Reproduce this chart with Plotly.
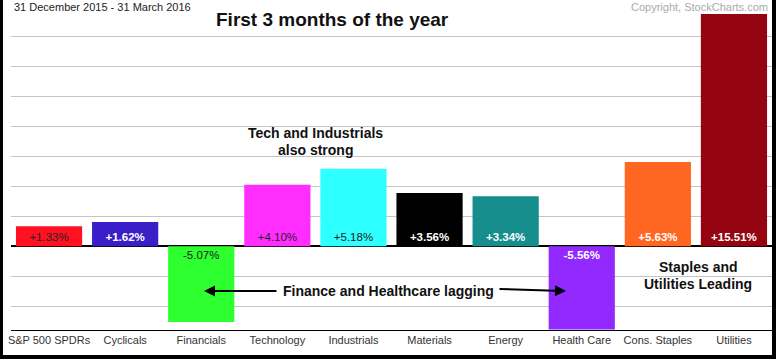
import plotly.graph_objects as go

categories = ["S&P 500 SPDRs", "Cyclicals", "Financials", "Technology", "Industrials",
              "Materials", "Energy", "Health Care", "Cons. Staples", "Utilities"]
values = [1.33, 1.62, -5.07, 4.10, 5.18, 3.56, 3.34, -5.56, 5.63, 15.51]
bar_colors = ["#FF1122", "#3A1EC8", "#2EFF2E", "#FF2EFF", "#2EFFFF",
              "#000000", "#168E8E", "#922AFF", "#FF6622", "#950511"]
label_colors = ["#222222", "#FFFFFF", "#222222", "#222222", "#222222",
                "#FFFFFF", "#FFFFFF", "#FFFFFF", "#FFFFFF", "#FFFFFF"]

W, H = 776, 362
L, R, T, B = 11, 772, 12, 330  # plot area in pixels


def px(x):
    return (x - L) / (R - L)


def py(y):
    return (B - y) / (B - T)


texts = []
for v, c in zip(values, label_colors):
    s = f"{v:+.2f}%"
    texts.append(f"<b>{s}</b>" if c == "#FFFFFF" else s)

fig = go.Figure(go.Bar(
    x=categories, y=values, marker=dict(color=bar_colors, line=dict(width=0)),
    text=texts, textposition="inside", insidetextanchor="start",
    textfont=dict(color=label_colors, size=11.5, family="Liberation Sans, Arial"),
    textangle=0, constraintext="none", hoverinfo="skip",
))

fig.update_layout(
    width=W, height=H, margin=dict(l=L, r=W - R, t=T, b=H - B),
    paper_bgcolor="white", plot_bgcolor="white", bargap=0.13, showlegend=False,
    font=dict(family="Liberation Sans, Arial", color="#333333"),
    xaxis=dict(showline=True, linecolor="black", linewidth=1, ticks="",
               tickfont=dict(size=11, color="#333333"), showgrid=False, fixedrange=True,
               ticklabelstandoff=0),
    yaxis=dict(range=[-5.6, 15.65], dtick=2, tick0=0, showgrid=True, gridcolor="#C4C4C4",
               gridwidth=1, zeroline=True, zerolinecolor="black", zerolinewidth=1.5,
               showticklabels=False, ticks="", fixedrange=True),
)

ann = []


def text(x, y, s, size, bold=True, color="#111111", xanchor="center"):
    ann.append(dict(x=px(x), y=py(y), xref="paper", yref="paper", showarrow=False,
                    text=f"<b>{s}</b>" if bold else s, xanchor=xanchor, yanchor="middle",
                    font=dict(size=size, color=color, family="Liberation Sans, Arial")))


text(12, 7, "31 December 2015 - 31 March 2016", 11, bold=False, color="#222222", xanchor="left")
text(770, 7, "Copyright, StockCharts.com", 11, bold=False, color="#AAAAAA", xanchor="right")
text(332, 19, "First 3 months of the year", 19)
text(315, 133, "Tech and Industrials", 14)
text(315, 150, "also strong", 14)
text(388, 291, "Finance and Healthcare lagging", 14)
text(698, 267, "Staples and", 14)
text(698, 284, "Utilities Leading", 14)

# arrows
ann.append(dict(x=px(204), y=py(291), xref="paper", yref="paper", ax=74, ay=0, text="",
                showarrow=True, arrowhead=2, arrowsize=1.1, arrowwidth=2, arrowcolor="black"))
ann.append(dict(x=px(566), y=py(291), xref="paper", yref="paper", ax=-68, ay=-2, text="",
                showarrow=True, arrowhead=2, arrowsize=1.1, arrowwidth=2, arrowcolor="black"))
fig.update_layout(annotations=ann)

# frame
shapes = []
for x0, y0, x1, y1 in [(0, 0, 3, 359), (0, 355, 776, 359), (772, 0, 776, 359)]:
    shapes.append(dict(type="rect", xref="paper", yref="paper", x0=px(x0), x1=px(x1),
                       y0=py(y1), y1=py(y0), fillcolor="black", line=dict(width=0), layer="above"))
fig.update_layout(shapes=shapes)

fig.write_html("out.html", config={"displayModeBar": False},
               post_script="document.body.style.margin='0';document.body.style.padding='0';")
